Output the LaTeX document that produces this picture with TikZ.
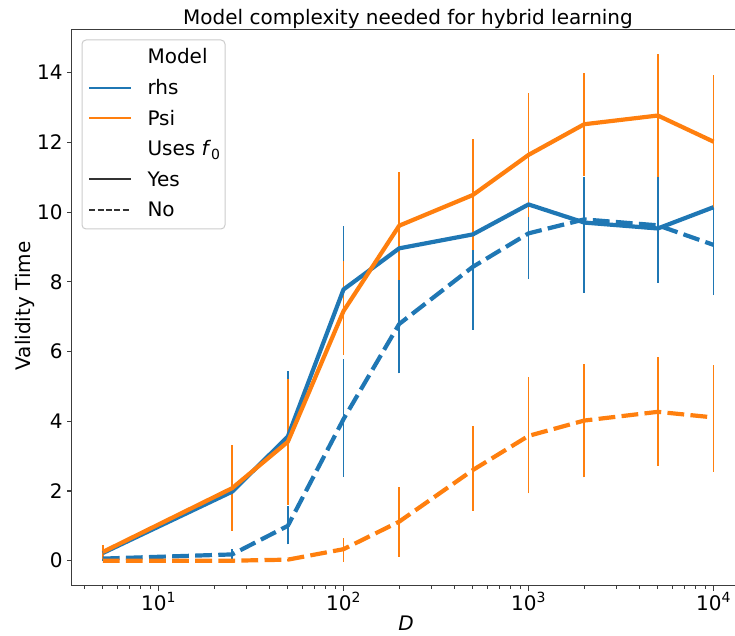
\documentclass[tikz,border=0pt]{standalone}
\usepackage{fontspec}
\usepackage{tikz}
\usetikzlibrary{positioning}
\setmainfont{DejaVu Sans}
\definecolor{rhsblue}{HTML}{1F77B4}
\definecolor{psiorange}{HTML}{FF7F0E}
\definecolor{spinegray}{RGB}{60,60,60}
\definecolor{keygray}{RGB}{51,51,51}
\def \PlotFont {\fontsize{20}{24}\selectfont}

\begin{document}
\begin{tikzpicture}[
	  x=1pt, y=1pt,
	  every node/.style={font=\PlotFont, inner sep=0pt, text=black},
	  spine_style/.style={draw=spinegray, line width=1.1pt},
	  tick_style/.style={draw=spinegray, line width=1.1pt},
	  minor_style/.style={draw=spinegray, line width=0.8pt},
	  bar_style/.style={line width=1.7pt},
	  curve_style/.style={line width=4.2pt, line join=round},
	  no_dashes/.style={dash pattern=on 16.8pt off 6.3pt},
	  key_style/.style={line width=2pt},
	  key_dashes/.style={dash pattern=on 6pt off 2.3pt},
	  legend_frame/.style={draw=black!20, line width=1pt, fill=white,
	  	fill opacity=0.8, rounded corners=4pt}]
	\useasboundingbox (0,0) rectangle (735,636);
	% Data area: x is log10(D), y is validity time
	\begin{scope}[x=185pt, y=34.86pt, shift={(-26.5pt,75.3pt)}]
		\coordinate (ll) at (0.5308,-0.717);
		\coordinate (ul) at (0.5308,15.232);
		\coordinate (lr) at (4.116,-0.717);
		\coordinate (ur) at (4.116,15.232);
		\draw[spine_style] (lr) -- (ll) -- (ul) -- (ur);
		% Ticks
		\foreach \v in {0,2,...,14}
			\draw[tick_style] (0.5308,\v) -- ++(-5pt,0) node[left=3.5pt] (ytick\v) {\v};
		\foreach \e in {1,...,4}
			\draw[tick_style] (\e,-0.717) -- ++(0,-5pt)
				node[anchor=base, yshift=-19.5pt] (xtick\e) {10\textsuperscript{\e}};
		\foreach \m in {4,...,9}
			\draw[minor_style] ({log10(\m)},-0.717) -- ++(0,-3pt);
		\foreach \k in {1,2,3}
			\foreach \m in {2,...,9}
				\draw[minor_style] ({\k+log10(\m)},-0.717) -- ++(0,-3pt);
		% Error bars
		\foreach \l/\a/\b in {0.699/0.05/0.4, 1.398/1.2/2.8, 1.699/1.68/5.44, 2/5.96/9.6,
			2.301/8.0/9.9, 2.699/8.5/10.2, 3/9.3/11.1, 3.301/8.4/11.0, 3.699/8.0/11.0, 4/8.6/11.7}
			\draw[bar_style, rhsblue] (\l,\a) -- (\l,\b);
		\foreach \l/\a/\b in {0.699/0.0/0.12, 1.398/0.02/0.33, 1.699/0.47/1.57, 2/2.41/5.78,
			2.301/5.37/8.21, 2.699/6.62/10.24, 3/8.08/10.7, 3.301/7.69/11.0, 3.699/7.97/11.0, 4/7.62/10.5}
			\draw[bar_style, rhsblue] (\l,\a) -- (\l,\b);
		\foreach \l/\a/\b in {0.699/0.05/0.45, 1.398/0.86/3.32, 1.699/1.60/5.21, 2/5.90/8.61,
			2.301/8.05/11.16, 2.699/8.91/12.09, 3/9.85/13.43, 3.301/11.04/14.0, 3.699/11.0/14.53, 4/10.12/13.92}
			\draw[bar_style, psiorange] (\l,\a) -- (\l,\b);
		\foreach \l/\a/\b in {1.699/0.0/0.06, 2/-0.03/0.65, 2.301/0.11/2.12, 2.699/1.43/3.86,
			3/1.93/5.28, 3.301/2.39/5.64, 3.699/2.73/5.85, 4/2.55/5.60}
			\draw[bar_style, psiorange] (\l,\a) -- (\l,\b);
		% Mean curves
		\draw[curve_style, rhsblue] (0.699,0.22) -- (1.398,1.98) -- (1.699,3.56) -- (2,7.78)
			-- (2.301,8.96) -- (2.699,9.36) -- (3,10.22) -- (3.301,9.70) -- (3.699,9.53) -- (4,10.14);
		\draw[curve_style, rhsblue, no_dashes] (0.699,0.06) -- (1.398,0.18) -- (1.699,1.0) -- (2,4.06)
			-- (2.301,6.79) -- (2.699,8.43) -- (3,9.39) -- (3.301,9.79) -- (3.699,9.62) -- (4,9.06);
		\draw[curve_style, psiorange] (0.699,0.25) -- (1.398,2.08) -- (1.699,3.41) -- (2,7.16)
			-- (2.301,9.61) -- (2.699,10.49) -- (3,11.64) -- (3.301,12.52) -- (3.699,12.77) -- (4,12.02);
		\draw[curve_style, psiorange, no_dashes] (0.699,0.0) -- (1.398,0.0) -- (1.699,0.03) -- (2,0.33)
			-- (2.301,1.12) -- (2.699,2.60) -- (3,3.58) -- (3.301,4.02) -- (3.699,4.27) -- (4,4.11);
	\end{scope}
	% Labels
	\node[anchor=base] (title) at (408,611) {Model complexity needed for hybrid learning};
	\node[rotate=90, anchor=base] (ylabel) at (30,330) {Validity Time};
	\node[anchor=base] (xlabel) at (406,5) {\textit{D}};
	% Legend
	\draw[legend_frame] (82,407) rectangle (225,596);
	\node[anchor=base west] (key_model) at (147.3,572) {Model};
	\node[anchor=base west] (key_rhs) at (147.3,541.4) {rhs};
	\node[anchor=base west] (key_psi) at (147.3,510.8) {Psi};
	\node[anchor=base west] (key_uses) at (147.3,480.2) {Uses \textit{f}\textsubscript{0}};
	\node[anchor=base west] (key_yes) at (147.3,449.6) {Yes};
	\node[anchor=base west] (key_no) at (147.3,419) {No};
	\draw[key_style, rhsblue] ([xshift=-58pt, yshift=7pt]key_rhs.base west) -- ++(41.4pt,0);
	\draw[key_style, psiorange] ([xshift=-58pt, yshift=7pt]key_psi.base west) -- ++(41.4pt,0);
	\draw[key_style, keygray] ([xshift=-58pt, yshift=7pt]key_yes.base west) -- ++(41.4pt,0);
	\draw[key_style, keygray, key_dashes] ([xshift=-58pt, yshift=7pt]key_no.base west) -- ++(41.4pt,0);
\end{tikzpicture}
\end{document}
